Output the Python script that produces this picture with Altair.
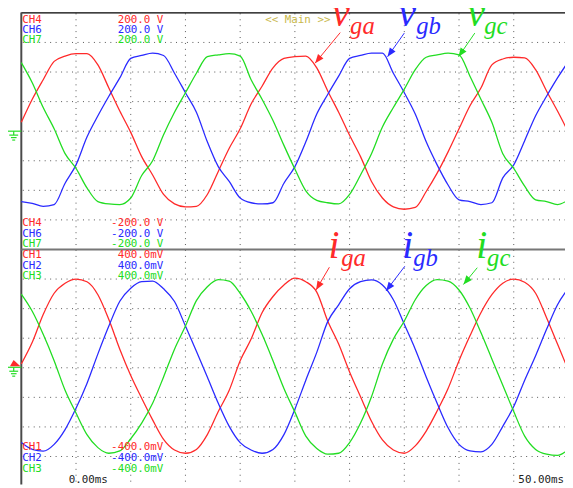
import math
import pandas as pd
import altair as alt

# ---------------- data ----------------
T_MS = list(range(0, 51))  # time, ms (5 ms/div)

# grid voltages, V (50 V/div)
V_GA = [15, 54, 87, 118, 127, 131, 131, 112, 73, 34, -2, -43, -74, -107, -123, -128, -127,
        -107, -68, -29, 4, 46, 76, 107, 123, 126, 127, 107, 68, 32, -7, -43, -85, -113, -128,
        -132, -129, -102, -71, -35, 4, 43, 73, 112, 122, 125, 124, 104, 68, 34, -2]
V_GB = [-119, -122, -127, -124, -88, -57, -10, 26, 59, 90, 123, 128, 132, 128, 98, 65, 32,
        -18, -60, -85, -113, -121, -123, -121, -88, -60, -18, 29, 62, 93, 123, 128, 132, 132,
        98, 65, 29, -18, -57, -91, -116, -119, -124, -121, -79, -57, -16, 26, 59, 90, 118]
V_GC = [116, 82, 40, 4, -38, -63, -96, -119, -123, -124, -113, -75, -50, -6, 32, 65, 98, 126,
        129, 131, 127, 87, 54, 18, -24, -64, -101, -117, -121, -123, -107, -74, -38, 7, 40, 71,
        104, 125, 129, 132, 129, 93, 54, 15, -38, -63, -93, -116, -119, -124, -116]

# grid currents, mV (100 mV/div)
I_GA = [13, 86, 180, 252, 286, 300, 291, 247, 163, 63, -26, -103, -176, -242, -278, -289, -276,
        -226, -148, -76, 24, 97, 186, 241, 280, 303, 291, 256, 158, 80, -14, -98, -181, -244,
        -278, -289, -264, -214, -146, -70, 24, 108, 186, 247, 286, 300, 289, 252, 169, 80, -9]
I_GB = [-253, -276, -282, -259, -209, -137, -53, 47, 141, 225, 269, 291, 293, 267, 224, 141, 56,
        -31, -120, -198, -253, -278, -289, -276, -226, -140, -42, 52, 156, 213, 267, 291, 297,
        280, 230, 147, 63, -31, -120, -203, -259, -281, -284, -259, -198, -131, -42, 41, 130,
        213, 269]
I_GC = [249, 191, 113, 24, -76, -153, -226, -270, -289, -281, -240, -187, -120, -31, 63, 141, 227,
        274, 298, 293, 252, 191, 113, 24, -70, -150, -231, -273, -292, -289, -253, -187, -98, 13,
        97, 158, 230, 278, 298, 293, 263, 202, 119, 30, -59, -148, -231, -276, -292, -296, -276]

PHASES = ["ga", "gb", "gc"]
T_GRID = [5, 10, 15, 20, 25, 30, 35, 40, 45]
V_GRID = [-150, -100, -50, 0, 50, 100, 150]
I_GRID = [-300, -200, -100, 0, 100, 200, 300]

# ---------------- styling / geometry ----------------
RED, BLUE, GREEN = "#ff2a2a", "#2a2aff", "#22dd22"
GRID = "#555555"
MONO = "DejaVu Sans Mono"
SERIF = "Liberation Serif"

W, H = 565, 480
OX = OY = 8


def X(x):
    return x - OX


def Y(y):
    return y - OY


T_DOM = [(OX - 21.5) / 11.1, (OX + W - 21.5) / 11.1]
V_DOM = [(129.5 - (OY + H)) * 5 / 3, (129.5 - OY) * 5 / 3]
I_DOM = [(369.5 - (OY + H)) * 10 / 3, (369.5 - OY) * 10 / 3]

SX = alt.Scale(domain=T_DOM, nice=False, zero=False)
SV = alt.Scale(domain=V_DOM, nice=False, zero=False)
SI = alt.Scale(domain=I_DOM, nice=False, zero=False)
SC = alt.Scale(domain=PHASES, range=[RED, BLUE, GREEN])

DUMMY = pd.DataFrame({"k": [0]})

volt_df = pd.DataFrame({"t": T_MS * 3, "val": V_GA + V_GB + V_GC,
                        "phase": [p for p in PHASES for _ in T_MS]})
curr_df = pd.DataFrame({"t": T_MS * 3, "val": I_GA + I_GB + I_GC,
                        "phase": [p for p in PHASES for _ in T_MS]})

layers = []

# dotted graticule
layers.append(alt.Chart(pd.DataFrame({"t": T_GRID})).mark_rule(
    color=GRID, strokeWidth=1, strokeDash=[1, 5]).encode(
    x=alt.X("t:Q", scale=SX, axis=None), y=alt.value(Y(10)), y2=alt.value(H)))
layers.append(alt.Chart(pd.DataFrame({"v": V_GRID})).mark_rule(
    color=GRID, strokeWidth=1, strokeDash=[1, 4.55]).encode(
    y=alt.Y("v:Q", scale=SV, axis=None), x=alt.value(X(23)), x2=alt.value(W)))
layers.append(alt.Chart(pd.DataFrame({"i": I_GRID})).mark_rule(
    color=GRID, strokeWidth=1, strokeDash=[1, 4.55]).encode(
    y=alt.Y("i:Q", scale=SI, axis=None), x=alt.value(X(23)), x2=alt.value(W)))


def rule(x1, y1, x2, y2, color, width=1.0):
    return alt.Chart(DUMMY).mark_rule(color=color, strokeWidth=width).encode(
        x=alt.value(X(x1)), y=alt.value(Y(y1)), x2=alt.value(X(x2)), y2=alt.value(Y(y2)))


# frame
layers.append(rule(21.5, 9.5, 573, 9.5, "#000000", 1.5))
layers.append(rule(21.5, 9, 21.5, 488, "#4a4a4a", 2))
layers.append(rule(21.5, 249.5, 573, 249.5, "#777777", 2.2))

# traces
layers.append(alt.Chart(volt_df).mark_line(strokeWidth=1.3, clip=True, interpolate="monotone").encode(
    x=alt.X("t:Q", scale=SX, axis=None), y=alt.Y("val:Q", scale=SV, axis=None),
    color=alt.Color("phase:N", scale=SC, legend=None)))
layers.append(alt.Chart(curr_df).mark_line(strokeWidth=1.3, clip=True, interpolate="monotone").encode(
    x=alt.X("t:Q", scale=SX, axis=None), y=alt.Y("val:Q", scale=SI, axis=None),
    color=alt.Color("phase:N", scale=SC, legend=None)))


def text(s, x, y, color, align="left", size=11, font=MONO, style="normal"):
    return alt.Chart(DUMMY).mark_text(
        text=s, align=align, baseline="alphabetic", font=font, fontSize=size,
        fontStyle=style, color=color).encode(x=alt.value(X(x)), y=alt.value(Y(y)))


# scope labels
for names, vals, ys in [
    (["CH4", "CH6", "CH7"], ["200.0 V"] * 3, [19.5, 30, 40.5]),
    (["CH4", "CH6", "CH7"], ["-200.0 V"] * 3, [226, 236.5, 247]),
    (["CH1", "CH2", "CH3"], ["400.0mV"] * 3, [258.5, 269, 279.5]),
    (["CH1", "CH2", "CH3"], ["-400.0mV"] * 3, [453, 464, 475]),
]:
    for name, val, yy, col in zip(names, vals, ys, [RED, BLUE, GREEN]):
        layers.append(text(name, 22.5, yy, col))
        layers.append(text(val, 165.5, yy, col, align="right"))
layers.append(text("<< Main >>", 302, 19.5, "#c9b84a", align="center"))
layers.append(text("0.00ms", 69.5, 486.5, "#222222"))
layers.append(text("50.00ms", 572, 486.5, "#222222", align="right"))

# ground markers
for cy in (129.5, 369):
    layers.append(rule(8, cy, 21.5, cy, GREEN, 1.2))
    layers.append(rule(13.8, cy, 13.8, cy + 4, GREEN, 1.2))
    layers.append(rule(9.3, cy + 4, 18.3, cy + 4, GREEN, 1.2))
    layers.append(rule(11, cy + 6.5, 16.7, cy + 6.5, GREEN, 1.2))
    layers.append(rule(12.3, cy + 9, 15.3, cy + 9, GREEN, 1.2))
layers.append(alt.Chart(DUMMY).mark_point(
    shape="M-0.3,-0.6 L1,0.6 L-1,0.6 Z", size=112, filled=True, opacity=1,
    color=RED, strokeWidth=0).encode(x=alt.value(X(15.3)), y=alt.value(Y(364.8))))

# annotations
HEAD = "M0,0 L0.4,1 L-0.4,1 Z"


def arrow(x1, y1, x2, y2, color):
    ang = math.degrees(math.atan2(x2 - x1, -(y2 - y1))) % 360
    return [rule(x1, y1, x2, y2, color, 1.0),
            alt.Chart(DUMMY).mark_point(shape=HEAD, size=324, angle=ang, filled=True,
                                        opacity=1, color=color, strokeWidth=0).encode(
                x=alt.value(X(x2)), y=alt.value(Y(y2)))]


for main, sub, xm, xs, col, a in [
    ("v", "ga", 337, 355, RED, (345, 29.5, 319.5, 60.5)),
    ("v", "gb", 404, 422, BLUE, (410, 30, 393, 54)),
    ("v", "gc", 474, 491, GREEN, (481.5, 30, 465, 54)),
]:
    layers.append(text(main, xm, 22.5, col, size=40, font=SERIF, style="italic"))
    layers.append(text(sub, xs, 31, col, size=25, font=SERIF, style="italic"))
    layers += arrow(*a, col)

for main, sub, xm, xs, col, a in [
    ("i", "ga", 333, 346, RED, (334, 267.5, 320.5, 290.5)),
    ("i", "gb", 408, 419, BLUE, (410.5, 266.5, 391.5, 291.5)),
    ("i", "gc", 483, 494, GREEN, (484, 268, 470, 285)),
]:
    layers.append(text(main, xm, 258, col, size=40, font=SERIF, style="italic"))
    layers.append(text(sub, xs, 266.5, col, size=25, font=SERIF, style="italic"))
    layers += arrow(*a, col)

chart = alt.layer(*layers).resolve_scale(y="independent").properties(
    width=W, height=H, padding=0, background="white",
    autosize=alt.AutoSizeParams(type="none"),
).configure_view(strokeWidth=0)

chart.save("out.html", embed_options={"renderer": "svg", "actions": False})
